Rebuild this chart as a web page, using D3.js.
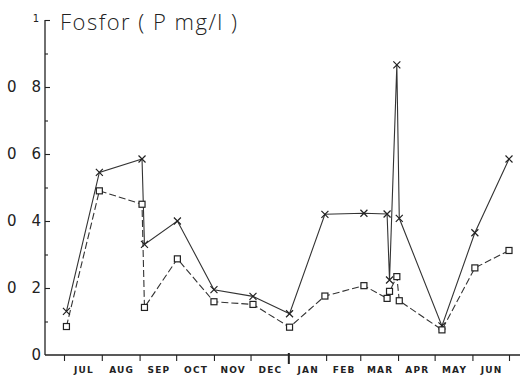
<!DOCTYPE html>
<html>
<head>
<meta charset="utf-8">
<script src="https://cdn.jsdelivr.net/npm/d3@7"></script>
<style>
  html, body { margin: 0; padding: 0; background: #fff; }
  svg { display: block; }
  text { font-family: "DejaVu Sans", sans-serif; fill: #222; }
</style>
</head>
<body>
<div id="chart"></div>
<script>
// sampling dates (first year Jul -> next year Jul)
const dates = [
  '2000-07-03', '2000-07-30', '2000-09-03', '2000-09-05', '2000-10-02',
  '2000-11-01', '2000-12-03', '2001-01-02', '2001-01-31', '2001-03-04',
  '2001-03-23', '2001-03-25', '2001-03-31', '2001-04-02', '2001-05-07',
  '2001-06-03', '2001-07-01'
];
// total phosphorus (x markers, solid line)
const totalP = [0.13, 0.545, 0.585, 0.33, 0.40, 0.195, 0.175, 0.123, 0.42, 0.423,
  0.421, 0.224, 0.866, 0.408, 0.087, 0.365, 0.585];
// dissolved phosphorus (square markers, dashed line)
const dissolvedP = [0.085, 0.49, 0.45, 0.142, 0.287, 0.159, 0.151, 0.083, 0.176, 0.207,
  0.169, 0.19, 0.234, 0.162, 0.075, 0.26, 0.312];
const monthLabels = ['JUL', 'AUG', 'SEP', 'OCT', 'NOV', 'DEC', 'JAN', 'FEB', 'MAR', 'APR', 'MAY', 'JUN'];
const yTicks = [0, 0.2, 0.4, 0.6, 0.8, 1];
const yTickLabels = ['0', '0\u20032', '0\u20034', '0\u20036', '0\u20038', '1'];
const title = 'Fosfor ( P mg/l )';

const W = 523, H = 379;
const parse = d3.timeParse('%Y-%m-%d');
const start = new Date(2000, 6, 1), end = new Date(2001, 6, 1);

const x = d3.scaleTime().domain([start, end]).range([64, 509]);
const y = d3.scaleLinear().domain([0, 1]).range([355, 20]);

const svg = d3.select('#chart').append('svg')
  .attr('width', W).attr('height', H);

// Y axis
const yAxis = svg.append('g').attr('transform', 'translate(45,0)')
  .call(d3.axisLeft(y).tickValues(d3.range(0, 1.001, 0.1)).tickSize(-5).tickFormat(''));
yAxis.select('.domain').remove();
yAxis.selectAll('.tick line')
  .attr('x2', (d, i) => i % 2 === 0 ? (i === 0 ? 0 : 5) : 3)
  .attr('stroke', '#222').attr('stroke-width', 1.1);
svg.append('line')
  .attr('x1', 45).attr('x2', 45).attr('y1', y(1)).attr('y2', y(0))
  .attr('stroke', '#222').attr('stroke-width', 1.3);

svg.append('g').selectAll('text')
  .data(yTicks).join('text')
  .attr('x', d => d === 1 ? 39 : 41)
  .attr('y', d => d === 1 ? y(d) - 2 : y(d))
  .attr('dy', '0.35em')
  .attr('text-anchor', 'end')
  .attr('font-size', d => d === 1 ? 10 : 15)
  .text((d, i) => yTickLabels[i]);

// title
svg.append('text')
  .attr('x', 60).attr('y', 30)
  .style('font-family', '"Open Sans", "DejaVu Sans", sans-serif')
  .attr('font-weight', 300)
  .attr('font-size', 22)
  .attr('textLength', 177)
  .attr('lengthAdjust', 'spacing')
  .text(title);

// X axis
const monthStarts = d3.timeMonth.range(start, d3.timeDay.offset(end, 1));
const xAxis = svg.append('g').attr('transform', 'translate(0,355)')
  .call(d3.axisBottom(x).tickValues(monthStarts).tickSize(6).tickFormat(''));
xAxis.select('.domain').remove();
xAxis.selectAll('.tick line')
  .attr('stroke', '#222')
  .attr('stroke-width', d => d.getMonth() === 0 ? 2 : 1.1)
  .attr('y1', d => d.getMonth() === 0 ? -2 : 0)
  .attr('y2', d => d.getMonth() === 0 ? 9 : 6);
svg.append('line')
  .attr('x1', 45).attr('x2', 520).attr('y1', y(0)).attr('y2', y(0))
  .attr('stroke', '#222').attr('stroke-width', 1.3);

svg.append('g').selectAll('text')
  .data(monthStarts.slice(0, 12)).join('text')
  .attr('x', (d, i) => (x(d) + x(monthStarts[i + 1])) / 2 + 1)
  .attr('y', 373)
  .attr('text-anchor', 'middle')
  .attr('font-size', 9)
  .attr('font-weight', 600)
  .attr('letter-spacing', 1.2)
  .text((d, i) => monthLabels[i]);

// series
const pts = vals => dates.map((d, i) => ({ date: parse(d), v: vals[i] }));
const line = d3.line().x(d => x(d.date)).y(d => y(d.v));
const total = pts(totalP), diss = pts(dissolvedP);

svg.append('path').datum(diss)
  .attr('d', line).attr('fill', 'none')
  .attr('stroke', '#333').attr('stroke-width', 1.1)
  .attr('stroke-dasharray', '7,3');
svg.append('path').datum(total)
  .attr('d', line).attr('fill', 'none')
  .attr('stroke', '#333').attr('stroke-width', 1.1);

svg.append('g').selectAll('path')
  .data(total).join('path')
  .attr('transform', d => `translate(${x(d.date)},${y(d.v)})`)
  .attr('d', 'M-3.5,-3.5L3.5,3.5M-3.5,3.5L3.5,-3.5')
  .attr('stroke', '#222').attr('stroke-width', 1.2).attr('fill', 'none');

svg.append('g').selectAll('rect')
  .data(diss).join('rect')
  .attr('x', d => x(d.date) - 3).attr('y', d => y(d.v) - 3)
  .attr('width', 6).attr('height', 6)
  .attr('fill', '#fff').attr('stroke', '#222').attr('stroke-width', 1.2);
</script>
</body>
</html>
